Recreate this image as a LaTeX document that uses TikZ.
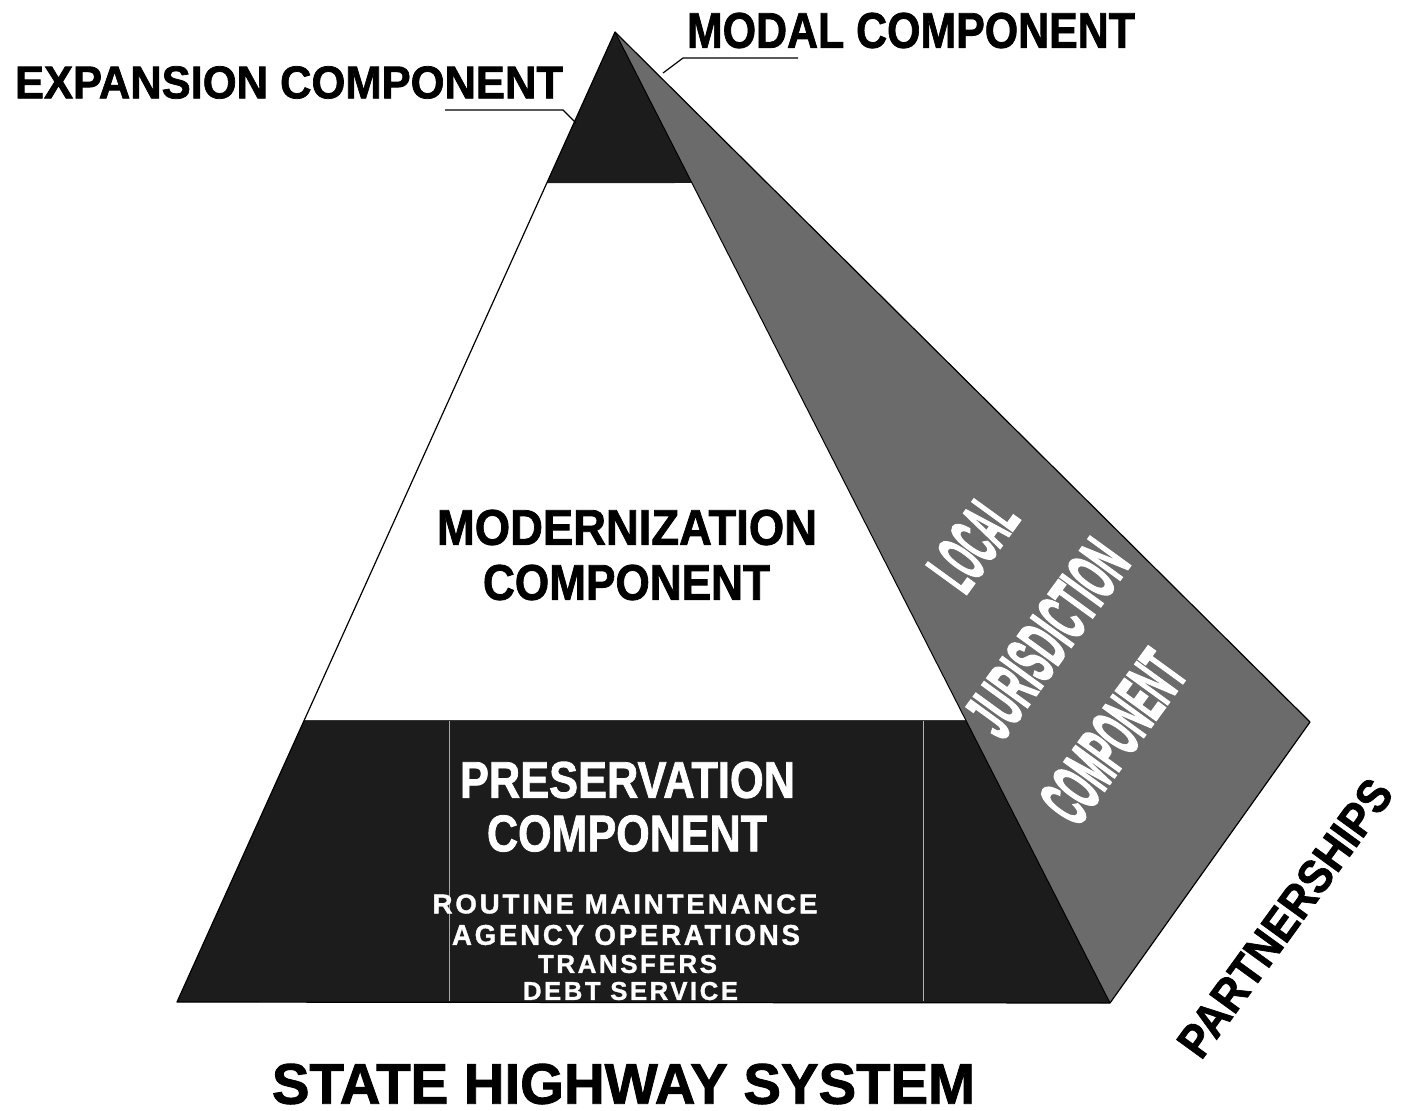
\documentclass[tikz,border=0pt]{standalone}
\usepackage{fontspec}
\setmainfont{Liberation Sans}[BoldFeatures={FakeBold=1.6}]
\newfontfamily\widefont{Liberation Sans}[LetterSpace=10, BoldFeatures={FakeBold=1.2}]
\newfontfamily\sidefont{Liberation Sans}[BoldFeatures={FakeBold=3.5}]
\usetikzlibrary{calc}

% fit a label into a box of given width and cap height (in px)
\newcommand{\fitlabel}[3]{\resizebox{#1pt}{#2pt}{\bfseries #3}}
\newcommand{\fitwide}[3]{\resizebox{#1pt}{#2pt}{\widefont\bfseries #3}}
\newcommand{\fitside}[3]{\resizebox{#1pt}{#2pt}{\sidefont\bfseries #3}}

\definecolor{darkband}{HTML}{1C1C1C}
\definecolor{sideface}{HTML}{6B6B6B}

\tikzset{
  label/.style={inner sep=0pt, anchor=center},
  leader/.style={draw=black, line width=1.2pt},
}

\begin{document}
\begin{tikzpicture}[x=1pt, y=-1pt]
        \useasboundingbox[fill=white] (0,0) rectangle (1401,1111);

        \coordinate (apex) at (615,32);
        \coordinate (bl) at (177,1002);
        \coordinate (br) at (1110,1003);
        \coordinate (back) at (1310,722);

        % band levels on the front face
        \coordinate (eL) at ($(apex)!0.1557!(bl)$);
        \coordinate (eR) at ($(apex)!0.1555!(br)$);
        \coordinate (mL) at ($(apex)!0.7093!(bl)$);
        \coordinate (mR) at ($(apex)!0.7086!(br)$);

        % side face
        \fill[sideface] (apex) -- (back) -- (br) -- cycle;

        % front face
        \fill[darkband] (mL) -- (mR) -- (br) -- (bl) -- cycle;
        \fill[white] (eL) -- (eR) -- (mR) -- (mL) -- cycle;
        \fill[darkband] (apex) -- (eR) -- (eL) -- cycle;
        \draw[gray!70, line width=0.6pt] (449,721) -- (449,1001);
        \draw[gray!60, line width=0.6pt] (923,721) -- (923,1001);

        \draw[line width=1.2pt, line join=round] (bl) -- (apex) -- (back) -- (br) -- cycle;
        \draw[line width=1pt] (apex) -- (br);

        % labels at the top
        \node[label] (modal) at (911,30.5) {\fitlabel{448}{35}{MODAL COMPONENT}};
        \node[label] (expansion) at (289,82.5) {\fitlabel{548}{32}{EXPANSION COMPONENT}};

        \coordinate (modalK) at (683,58);
        \coordinate (modalE) at (798,58);
        \coordinate (modalP) at (663,73);
        \draw[leader] (modalE) -- (modalK) -- (modalP);

        \coordinate (expK) at (563,110);
        \coordinate (expE) at (445,110);
        \coordinate (expP) at (576,123);
        \draw[leader] (expE) -- (expK) -- (expP);

        % front face texts
        \node[label] (modern) at (627,527.5) {\fitlabel{380}{35}{MODERNIZATION}};
        \node[label] (modernc) at (626.5,582.5) {\fitlabel{287}{35}{COMPONENT}};

        \node[label, white] (pres) at (627.5,780) {\fitlabel{335}{36}{PRESERVATION}};
        \node[label, white] (presc) at (627,833.5) {\fitlabel{280}{36}{COMPONENT}};

        \node[label, white] (routine) at (625,904) {\fitwide{385}{19}{ROUTINE MAINTENANCE}};
        \node[label, white] (agency) at (626,935) {\fitwide{348}{20}{AGENCY OPERATIONS}};
        \node[label, white] (transfers) at (627.5,964) {\fitwide{179}{18}{TRANSFERS}};
        \node[label, white] (debt) at (630.5,991) {\fitwide{215}{18}{DEBT SERVICE}};

        % side face texts
        \node[label, white, rotate=54] (local) at (973,543) {\fitside{95}{50}{LOCAL}};
        \node[label, white, rotate=54] (juris) at (1047,638) {\fitside{220}{50}{JURISDICTION}};
        \node[label, white, rotate=54] (localc) at (1113,737) {\fitside{190}{50}{COMPONENT}};

        \node[label, rotate=54] (partners) at (1285,918) {\fitlabel{330}{33}{PARTNERSHIPS}};

        \node[label] (system) at (623.5,1084) {\fitlabel{703}{40}{STATE HIGHWAY SYSTEM}};
\end{tikzpicture}
\end{document}
